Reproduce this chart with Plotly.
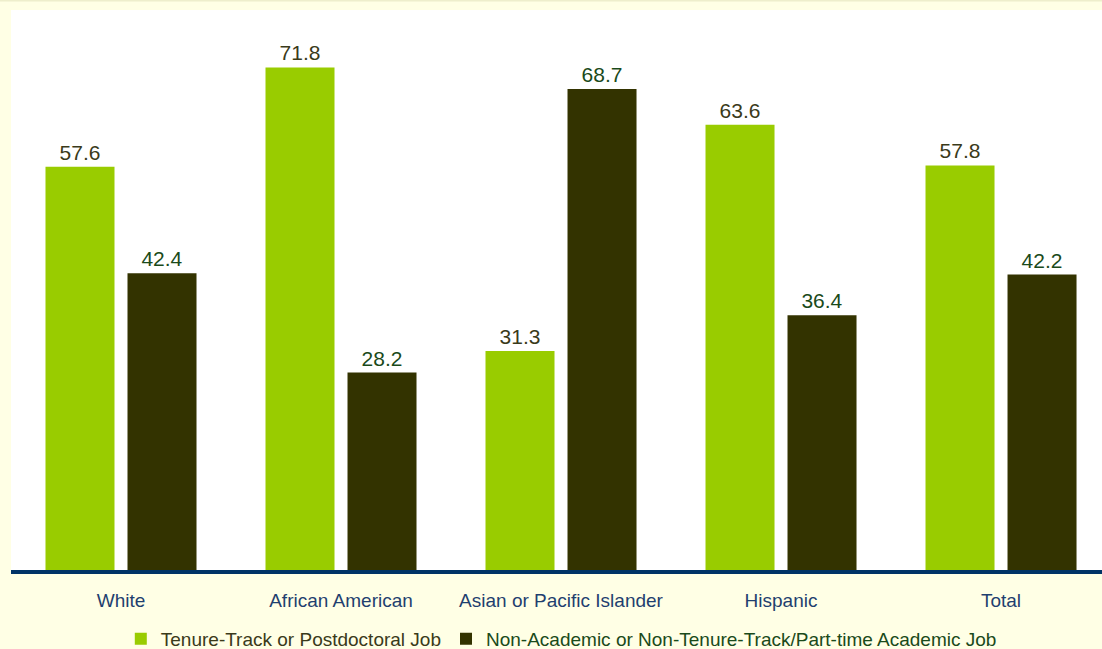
import plotly.graph_objects as go

categories = ["White", "African American", "Asian or Pacific Islander", "Hispanic", "Total"]
tenure = [57.6, 71.8, 31.3, 63.6, 57.8]
nonacad = [42.4, 28.2, 68.7, 36.4, 42.2]
series_names = ["Tenure-Track or Postdoctoral Job",
                "Non-Academic or Non-Tenure-Track/Part-time Academic Job"]

FONT = "Liberation Sans, Arial, sans-serif"

fig = go.Figure()
fig.add_trace(go.Bar(
    x=categories, y=tenure, name="<span style='color:#3a3a1a'>" + series_names[0] + "</span>",
    marker=dict(color="#99CC00", line=dict(width=0)),
    text=[f"{v:.1f}" for v in tenure], textposition="outside",
    textfont=dict(color="#3a3a1a", size=21, family=FONT),
    cliponaxis=False,
))
fig.add_trace(go.Bar(
    x=categories, y=nonacad, name="<span style='color:#1a4a1a'>" + series_names[1] + "</span>",
    marker=dict(color="#333300", line=dict(width=0)),
    text=[f"{v:.1f}" for v in nonacad], textposition="outside",
    textfont=dict(color="#1a4a1a", size=21, family=FONT),
    cliponaxis=False,
))

fig.update_layout(
    width=1102, height=649,
    margin=dict(l=11, r=0, t=10, b=79),
    paper_bgcolor="#FFFFE5",
    plot_bgcolor="#FFFFFF",
    barmode="group",
    bargap=0.2545,
    bargroupgap=0.1585,
    font=dict(family=FONT, size=18),
    showlegend=True,
    legend=dict(orientation="h", x=0.5044, xanchor="center",
                yref="container", y=0.0447, yanchor="top",
                font=dict(size=19, color="#3a3a1a"), bgcolor="rgba(0,0,0,0)",
                itemwidth=30, tracegroupgap=0),
    xaxis=dict(range=[-0.5, 4.459], showline=True, linewidth=4, linecolor="#003366",
               tickfont=dict(color="#1F3F6F", size=19), ticks="", showgrid=False,
               zeroline=False, ticklabelstandoff=10, automargin=False),
    yaxis=dict(range=[0, 80], visible=False, showgrid=False, zeroline=False,
               automargin=False),
)
fig.add_shape(type="line", xref="paper", yref="paper", x0=-0.0101, x1=1.0, y0=1.017, y1=1.017,
              line=dict(color="#EEEECC", width=2))

fig.write_html("out.html",
               config={"displayModeBar": False},
               post_script="document.body.style.margin='0';document.body.style.padding='0';"
                           "document.body.style.background='#FFFFE5';")
